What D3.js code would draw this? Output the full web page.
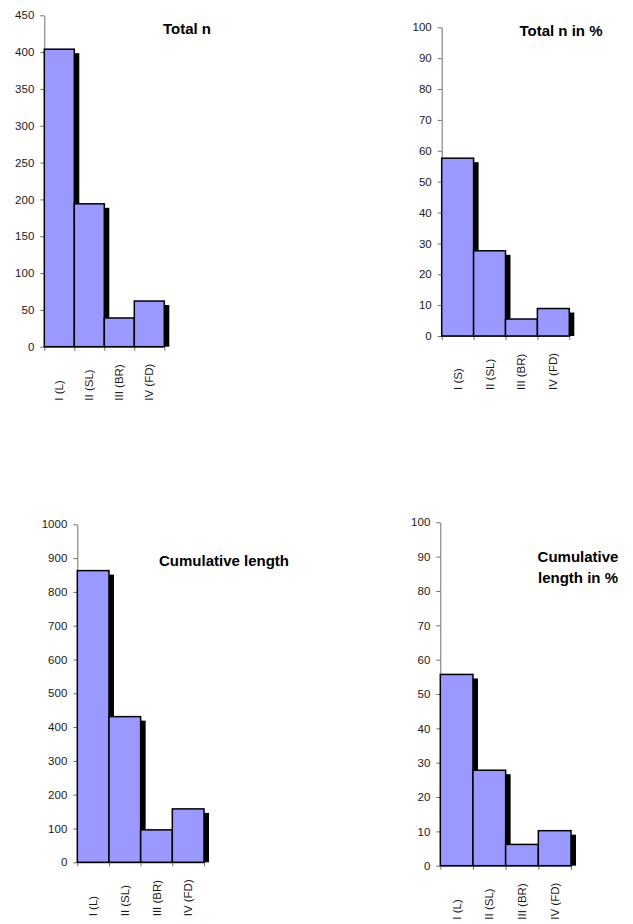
<!DOCTYPE html>
<html>
<head>
<meta charset="utf-8">
<script src="https://cdn.jsdelivr.net/npm/d3@7/dist/d3.min.js"></script>
<style>
  html, body { margin: 0; padding: 0; background: #fff; }
  svg { display: block; }
  text { font-family: Arial, "Liberation Sans", sans-serif; }
</style>
</head>
<body>
<svg id="chart" width="633" height="924"></svg>
<script>
// Fracture classes
const classLabels = ["I (L)", "II (SL)", "III (BR)", "IV (FD)"];
const classLabelsPct = ["I (S)", "II (SL)", "III (BR)", "IV (FD)"];

// Values per class
const totalN = [404, 194, 39, 62];
const totalNPct = [57.6, 27.6, 5.5, 8.9];
const cumLength = [863, 431, 96, 158];
const cumLengthPct = [55.7, 27.8, 6.2, 10.2];

// Y tick values
const ticksTotalN = [0, 50, 100, 150, 200, 250, 300, 350, 400, 450];
const ticksPct = [0, 10, 20, 30, 40, 50, 60, 70, 80, 90, 100];
const ticksCumLength = [0, 100, 200, 300, 400, 500, 600, 700, 800, 900, 1000];

// Titles
const titleTotalN = ["Total n"];
const titleTotalNPct = ["Total n in %"];
const titleCumLength = ["Cumulative length"];
const titleCumLengthPct = ["Cumulative", "length in %"];

// Panel geometry (plot area in page pixels)
const panels = [
  { cats: classLabels,    vals: totalN,       ticks: ticksTotalN,    title: titleTotalN,
    x0: 44.3,  x1: 164.3, y0: 346.7, y1: 15.3,  tx: 187,   ty: 34 },
  { cats: classLabelsPct, vals: totalNPct,    ticks: ticksPct,       title: titleTotalNPct,
    x0: 441.7, x1: 569.3, y0: 336,   y1: 27.3,  tx: 561,   ty: 36 },
  { cats: classLabels,    vals: cumLength,    ticks: ticksCumLength, title: titleCumLength,
    x0: 77.3,  x1: 204,   y0: 862.3, y1: 524.3, tx: 224,   ty: 566 },
  { cats: classLabels,    vals: cumLengthPct, ticks: ticksPct,       title: titleCumLengthPct,
    x0: 440.3, x1: 571,   y0: 865.7, y1: 522.3, tx: 578,   ty: 561.7 }
];

const svg = d3.select("#chart");
const barFill = "#9999ff";
const axisColor = "#6f6f6f";
const shadowDx = 5, shadowDy = 4;

panels.forEach(p => {
  const g = svg.append("g");
  const tickMax = p.ticks[p.ticks.length - 1];

  const y = d3.scaleLinear().domain([0, tickMax]).range([p.y0, p.y1]);
  const x = d3.scaleBand().domain(p.cats).range([p.x0, p.x1]).padding(0);
  const xEdges = d3.scaleLinear().domain([0, p.cats.length]).range([p.x0, p.x1]);

  // Y axis
  const yAxis = g.append("g")
    .attr("transform", `translate(${p.x0},0)`)
    .call(d3.axisLeft(y).tickValues(p.ticks).tickFormat(d3.format("d"))
      .tickSize(4).tickSizeOuter(0).tickPadding(6));
  yAxis.select(".domain").attr("stroke", axisColor);
  yAxis.selectAll(".tick line").attr("stroke", axisColor);
  yAxis.selectAll(".tick text")
    .attr("fill", "#1a1a1a")
    .style("font-size", "11.5px");

  // X axis with ticks on category boundaries
  const xAxis = g.append("g")
    .attr("transform", `translate(0,${p.y0})`)
    .call(d3.axisBottom(xEdges).tickValues(d3.range(p.cats.length + 1))
      .tickFormat("").tickSize(4).tickSizeOuter(0));
  xAxis.select(".domain").attr("stroke", axisColor);
  xAxis.selectAll(".tick line").attr("stroke", axisColor);

  // Rotated category labels
  g.selectAll("text.cat")
    .data(p.cats)
    .join("text")
    .attr("class", "cat")
    .attr("transform", d => `translate(${x(d) + x.bandwidth() / 2},${p.y0 + 54}) rotate(-90)`)
    .attr("dy", "0.35em")
    .attr("text-anchor", "start")
    .attr("fill", "#1a1a1a")
    .style("font-size", "11.5px")
    .text(d => d);

  const data = p.cats.map((c, i) => ({ c, v: p.vals[i] }));

  // Drop shadows
  g.selectAll("rect.shadow")
    .data(data)
    .join("rect")
    .attr("class", "shadow")
    .attr("x", d => x(d.c) + shadowDx)
    .attr("y", d => y(d.v) + shadowDy)
    .attr("width", x.bandwidth())
    .attr("height", d => Math.max(0, y(0) - y(d.v) - shadowDy))
    .attr("fill", "#000");

  // Bars
  g.selectAll("rect.bar")
    .data(data)
    .join("rect")
    .attr("class", "bar")
    .attr("x", d => x(d.c))
    .attr("y", d => y(d.v))
    .attr("width", x.bandwidth())
    .attr("height", d => y(0) - y(d.v))
    .attr("fill", barFill)
    .attr("stroke", "#000")
    .attr("stroke-width", 1.5);

  // Title
  const t = g.append("text")
    .attr("x", p.tx)
    .attr("y", p.ty)
    .attr("text-anchor", "middle")
    .attr("font-weight", "bold")
    .attr("fill", "#000")
    .style("font-size", "15px");
  p.title.forEach((line, i) => {
    t.append("tspan")
      .attr("x", p.tx)
      .attr("dy", i === 0 ? 0 : 21.6)
      .text(line);
  });
});
</script>
</body>
</html>
